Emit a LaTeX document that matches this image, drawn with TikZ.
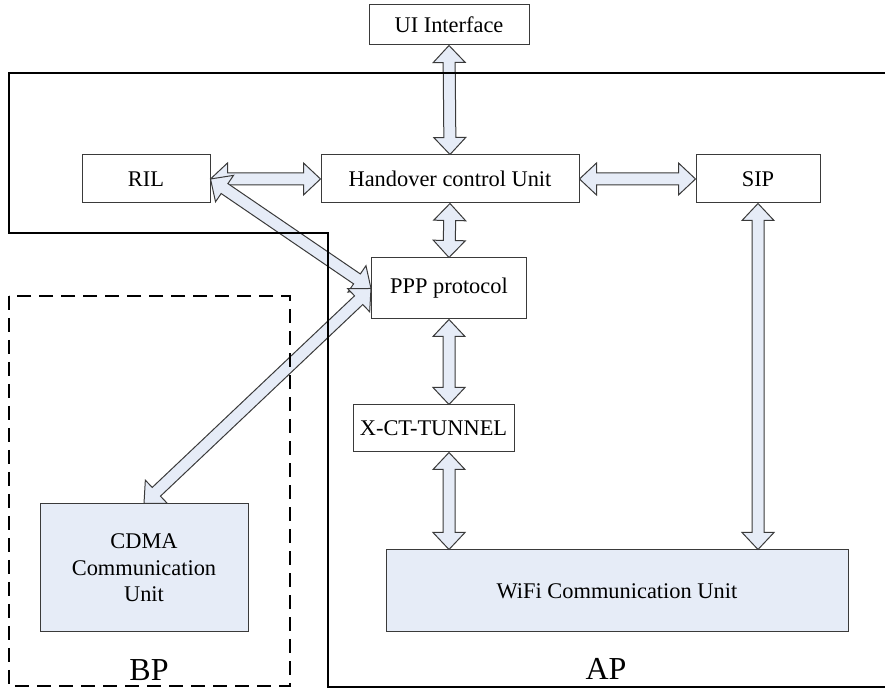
\documentclass[tikz,border=0pt]{standalone}
\usepackage{fontspec}
\setmainfont{Liberation Serif}
\usepackage{xcolor}
\usepackage{tikz}
\usetikzlibrary{calc}

\definecolor{unitblue}{HTML}{E6ECF7}
\definecolor{edgegray}{HTML}{3A3A3A}

% hollow two-way arrow between two anchors
\newcommand\twoway[2]{%
  \coordinate (tw-p) at ($(#1)!8.5pt!(#2)$);
  \coordinate (tw-q) at ($(#2)!8.5pt!(#1)$);
  \draw[arr] (#1) -- ($(tw-p)!8pt!90:(#2)$) -- ($(tw-p)!3pt!90:(#2)$)
    -- ($(tw-q)!3pt!-90:(#1)$) -- ($(tw-q)!8pt!-90:(#1)$) -- (#2)
    -- ($(tw-q)!8pt!90:(#1)$) -- ($(tw-q)!3pt!90:(#1)$)
    -- ($(tw-p)!3pt!-90:(#2)$) -- ($(tw-p)!8pt!-90:(#2)$) -- cycle;
}

\begin{document}
\begin{tikzpicture}[
  x=0.5pt, y=-0.5pt,
  font=\fontsize{11.2}{13.2}\selectfont,
  box/.style={draw=edgegray, line width=0.5pt, inner sep=0pt, align=center},
  unit/.style={box, fill=unitblue},
  arr/.style={draw=edgegray, fill=unitblue, line width=0.5pt, line join=miter},
  frame/.style={line width=1pt},
  tag/.style={font=\fontsize{16}{18}\selectfont}
]
  \useasboundingbox (0,0) rectangle (885,688);

  % blocks
  \node[box, minimum width=80pt, minimum height=20pt] (ui) at (449,25) {UI Interface};
  \node[box, minimum width=64pt, minimum height=24pt] (ril) at (146,179) {RIL};
  \node[box, minimum width=129pt, minimum height=24pt] (hc) at (450,179) {Handover control Unit};
  \node[box, minimum width=62pt, minimum height=24pt] (sip) at (758,179) {SIP};
  \node[box, minimum width=77.5pt, minimum height=30.5pt] (ppp) at (449,288.5) {PPP protocol};
  \node[box, minimum width=80.5pt, minimum height=23.5pt] (xct) at (433.5,428.5) {X-CT-TUNNEL};
  \node[unit, minimum width=104pt, minimum height=64pt] (cdma) at (144,568) {CDMA\\Communication\\Unit};
  \node[unit, minimum width=231pt, minimum height=41pt] (wifi) at (617,591) {WiFi Communication Unit};

  % links
  \twoway{ui.south}{hc.north}
  \twoway{ril.east}{hc.west}
  \twoway{hc.east}{sip.west}
  \twoway{hc.south}{ppp.north}
  \twoway{ril.east}{ppp.west}
  \twoway{ppp.west}{cdma.north}
  \twoway{ppp.south}{xct.north -| ppp.south}
  \twoway{xct.south -| ppp.south}{wifi.north -| ppp.south}
  \twoway{sip.south}{sip.south |- wifi.north}

  % AP and BP areas
  \draw[frame] (885,73) -- (9,73) -- (9,233) -- (328,233) -- (328,687) -- (885,687);
  \draw[line width=0.75pt, dash pattern=on 7pt off 4pt] (9,296) rectangle (290,686);
  \node[tag, anchor=base] (bp) at (149,681) {BP};
  \node[tag, anchor=base] (ap) at (606,680) {AP};
\end{tikzpicture}
\end{document}
